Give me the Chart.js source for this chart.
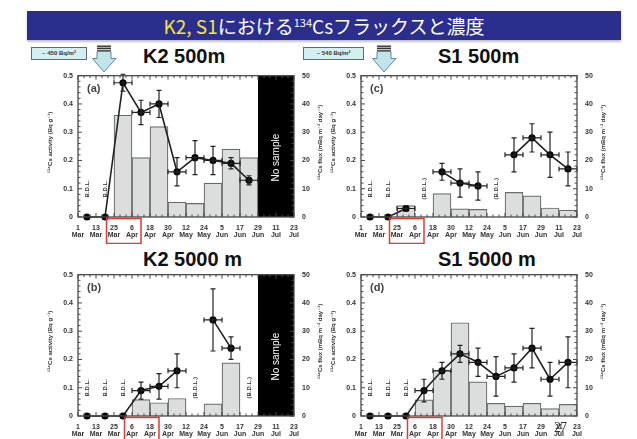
<!DOCTYPE html>
<html>
<head>
<meta charset="utf-8">
<script src="https://cdn.jsdelivr.net/npm/chart.js@4"></script>
<style>
  html, body { margin: 0; padding: 0; background: #fff; }
  body { width: 637px; height: 439px; position: relative; overflow: hidden; font-family: 'Liberation Sans', Arial, sans-serif; }
  .banner { position: absolute; left: 27px; top: 11px; width: 594px; height: 29px; background: #2c2e8e;
            box-shadow: 0 2px 2px rgba(0,0,0,0.25); color: #fff; text-align: center;
            font-family: 'Noto Sans CJK JP', sans-serif; font-size: 19px; line-height: 29px; white-space: nowrap; }
  .banner .hl { color: #f4e53b; }
  .banner .sup { font-size: 11px; position: relative; top: -7px; }
  .head { position: absolute; font: bold 20px 'Liberation Sans', Arial, sans-serif; line-height: 20px; color: #111; white-space: nowrap; }
  .inv { position: absolute; height: 13px; box-sizing: border-box; background: #d3eff1; border: 1px solid #5c6c72;
         font: bold 6px 'Liberation Sans', Arial, sans-serif; line-height: 11px; text-align: center; color: #333; white-space: nowrap; }
  .arrow { position: absolute; top: 45px; }
  canvas { position: absolute; }
  .page { position: absolute; left: 554px; top: 420px; font: 14px 'Liberation Serif', serif; color: #333; letter-spacing: -1px; }
</style>
</head>
<body>
<div class="banner"><span class="hl">K2, S1</span>における<span class="sup">134</span>Csフラックスと濃度</div>

<div class="inv" style="left:31px;top:47px;width:56px;">~ 450 Bq/m²</div>
<svg class="arrow" style="left:92px" width="25" height="28" viewBox="0 0 25 28">
  <rect x="5" y="0.5" width="14" height="1.4" fill="#333"/>
  <rect x="5" y="2.6" width="14" height="1.4" fill="#333"/>
  <rect x="5" y="4.7" width="14" height="1.4" fill="#555"/>
  <path d="M5 6.5 H19 V13.5 H24 L12 27 L0.5 13.5 H5 Z" fill="#bfe4ea" stroke="#6d878f" stroke-width="1"/>
</svg>
<div class="head" style="left:143px;top:46px;">K2 500m</div>

<div class="inv" style="left:303px;top:47px;width:61px;">~ 540 Bq/m²</div>
<svg class="arrow" style="left:372px" width="25" height="28" viewBox="0 0 25 28">
  <rect x="5" y="0.5" width="14" height="1.4" fill="#333"/>
  <rect x="5" y="2.6" width="14" height="1.4" fill="#333"/>
  <rect x="5" y="4.7" width="14" height="1.4" fill="#555"/>
  <path d="M5 6.5 H19 V13.5 H24 L12 27 L0.5 13.5 H5 Z" fill="#bfe4ea" stroke="#6d878f" stroke-width="1"/>
</svg>
<div class="head" style="left:438px;top:46px;">S1 500m</div>

<div class="head" style="left:143px;top:249px;">K2 5000 m</div>
<div class="head" style="left:438px;top:249px;">S1 5000 m</div>

<canvas id="ca" width="300" height="180" style="left:30px;top:64px"></canvas>
<canvas id="cc" width="285" height="180" style="left:326px;top:64px"></canvas>
<canvas id="cb" width="300" height="176" style="left:30px;top:263px"></canvas>
<canvas id="cd" width="285" height="176" style="left:326px;top:263px"></canvas>

<div class="page">27</div>

<script>
// Sampling bins: days after 1 March, centre of each 12-day trap interval
const binDay = [6, 18, 30, 42, 54, 66, 78, 90, 102, 114, 126, 138];
const halfBin = 6;

// Axis tick labels (every 12 days from 1 Mar to 23 Jul)
const tickDay = ['1', '13', '25', '6', '18', '30', '12', '24', '5', '17', '29', '11', '23'];
const tickMonth = ['Mar', 'Mar', 'Mar', 'Apr', 'Apr', 'Apr', 'May', 'May', 'Jun', 'Jun', 'Jun', 'Jul', 'Jul'];

// (a) K2 500 m
const actA  = [0, 0, 0.475, 0.37, 0.40, 0.16, 0.21, 0.20, 0.19, 0.13, null, null];
const errA  = [0, 0, 0.03, 0.043, 0.048, 0.05, 0.06, 0.05, 0.02, 0.016, null, null];
const fluxA = [null, null, 36, 21, 32, 5.3, 4.8, 12, 24, 21, null, null];
const bdlA = [6, 18];
const bdlParenA = [];
const noSampleA = [120, 144];
const markA = [19, 42];

// (b) K2 5000 m
const actB  = [0, 0, 0, 0.09, 0.105, 0.16, null, 0.34, 0.24, null, null, null];
const errB  = [0, 0, 0, 0.03, 0.045, 0.06, null, 0.11, 0.04, null, null, null];
const fluxB = [null, null, null, 5.8, 4.7, 6.2, null, 4.3, 18.8, null, null, null];
const bdlB = [6, 18, 30];
const bdlParenB = [78, 114];
const noSampleB = [120, 144];
const markB = [31, 54];

// (c) S1 500 m
const actC  = [0, 0, 0.03, null, 0.16, 0.12, 0.11, null, 0.22, 0.28, 0.22, 0.17];
const errC  = [0, 0, 0.01, null, 0.03, 0.05, 0.05, null, 0.06, 0.05, 0.08, 0.06];
const fluxC = [null, null, 4.0, null, 8.3, 2.9, 2.7, null, 8.7, 7.5, 3.2, 2.4];
const bdlC = [6, 18];
const bdlParenC = [42, 90];
const markC = [19, 42];

// (d) S1 5000 m
const actD  = [0, 0, 0, 0.09, 0.16, 0.22, 0.19, 0.14, 0.17, 0.24, 0.13, 0.19];
const errD  = [0, 0, 0, 0.04, 0.03, 0.03, 0.05, 0.07, 0.05, 0.07, 0.06, 0.09];
const fluxD = [null, null, null, 5.7, 16.2, 33, 12.1, 4.5, 3.5, 4.5, 2.6, 4.1];
const bdlD = [6, 18, 30];
const bdlParenD = [];
const markD = [31, 54];

const activityTitle = '¹³⁴Cs activity (Bq g⁻¹)';
const fluxTitle = '¹³⁴Cs flux (mBq m⁻² day⁻¹)';

const tickFont = { family: "'Liberation Sans', Arial, sans-serif", size: 7, weight: 'bold', lineHeight: 1.05 };

function rotatedText(ctx, text, x, y) {
  ctx.save();
  ctx.translate(x, y);
  ctx.rotate(-Math.PI / 2);
  ctx.textAlign = 'center';
  ctx.textBaseline = 'middle';
  ctx.fillText(text, 0, 0);
  ctx.restore();
}

function makePanel(id, p) {
  const decor = {
    id: 'decor',
    beforeDatasetsDraw(chart) {
      if (!p.noSample) return;
      const { ctx, chartArea: a, scales: { x } } = chart;
      const x1 = x.getPixelForValue(p.noSample[0]);
      const x2 = x.getPixelForValue(p.noSample[1]);
      ctx.save();
      ctx.fillStyle = '#000';
      ctx.fillRect(x1, a.top, x2 - x1, a.bottom - a.top);
      ctx.restore();
    },
    afterDatasetsDraw(chart) {
      const { ctx, chartArea: a, scales: { x, y } } = chart;
      ctx.save();

      // error bars: horizontal = trap interval, vertical = activity uncertainty
      ctx.strokeStyle = '#222';
      ctx.lineWidth = 1.2;
      p.act.forEach((v, i) => {
        if (v == null || v === 0) return;
        const cx = x.getPixelForValue(binDay[i]);
        const cy = y.getPixelForValue(v);
        const xl = x.getPixelForValue(binDay[i] - halfBin);
        const xr = x.getPixelForValue(binDay[i] + halfBin);
        const yt = y.getPixelForValue(v + p.err[i]);
        const yb = y.getPixelForValue(v - p.err[i]);
        ctx.beginPath();
        ctx.moveTo(xl, cy); ctx.lineTo(xr, cy);
        ctx.moveTo(xl, cy - 2.5); ctx.lineTo(xl, cy + 2.5);
        ctx.moveTo(xr, cy - 2.5); ctx.lineTo(xr, cy + 2.5);
        ctx.moveTo(cx, yt); ctx.lineTo(cx, yb);
        ctx.moveTo(cx - 2.5, yt); ctx.lineTo(cx + 2.5, yt);
        ctx.moveTo(cx - 2.5, yb); ctx.lineTo(cx + 2.5, yb);
        ctx.stroke();
      });

      // plot frame with inward ticks on all sides
      ctx.strokeStyle = '#4a4a4a';
      ctx.lineWidth = 1.3;
      ctx.strokeRect(a.left, a.top, a.right - a.left, a.bottom - a.top);
      ctx.lineWidth = 1;
      ctx.beginPath();
      for (let d = 0; d <= 144; d += 4) {
        const px = x.getPixelForValue(d);
        const len = d % 12 === 0 ? 4 : 2.5;
        ctx.moveTo(px, a.bottom); ctx.lineTo(px, a.bottom - len);
        ctx.moveTo(px, a.top); ctx.lineTo(px, a.top + len);
      }
      for (let k = 0; k <= 25; k++) {
        const py = y.getPixelForValue(k / 50);
        const len = k % 5 === 0 ? 4 : 2.5;
        ctx.moveTo(a.left, py); ctx.lineTo(a.left + len, py);
        ctx.moveTo(a.right, py); ctx.lineTo(a.right - len, py);
      }
      ctx.stroke();

      // panel letter
      ctx.fillStyle = '#444';
      ctx.font = "bold 11px 'Liberation Sans', Arial, sans-serif";
      ctx.textAlign = 'left';
      ctx.textBaseline = 'top';
      ctx.fillText(p.label, a.left + 9, a.top + 8);

      // below-detection-limit notes
      ctx.fillStyle = '#333';
      ctx.font = "bold 6px 'Liberation Sans', Arial, sans-serif";
      const by = y.getPixelForValue(0.1);
      p.bdl.forEach(d => rotatedText(ctx, 'B.D.L.', x.getPixelForValue(d), by));
      p.bdlParen.forEach(d => rotatedText(ctx, '(B.D.L.)', x.getPixelForValue(d), by));

      // no-sample period label
      if (p.noSample) {
        ctx.fillStyle = '#fff';
        ctx.font = "10px 'Liberation Sans', Arial, sans-serif";
        const mx = x.getPixelForValue((p.noSample[0] + p.noSample[1]) / 2);
        rotatedText(ctx, 'No sample', mx, y.getPixelForValue(0.21));
      }

      // axis titles
      ctx.fillStyle = '#333';
      ctx.font = "bold 6px 'Liberation Sans', 'DejaVu Sans', sans-serif";
      const midY = (a.top + a.bottom) / 2 - 4;
      rotatedText(ctx, activityTitle, a.left - 28, midY);
      rotatedText(ctx, fluxTitle, a.right + 26, midY);

      // highlighted tick labels
      ctx.strokeStyle = '#e4392e';
      ctx.lineWidth = 1.5;
      const m1 = x.getPixelForValue(p.mark[0]);
      const m2 = x.getPixelForValue(p.mark[1]);
      ctx.strokeRect(m1, a.bottom + 1.5, m2 - m1, 25);

      ctx.restore();
    }
  };

  return new Chart(document.getElementById(id), {
    type: 'bar',
    data: {
      datasets: [
        {
          type: 'line',
          data: binDay.map((d, i) => ({ x: d, y: p.act[i] })),
          yAxisID: 'y',
          borderColor: '#222',
          borderWidth: 1.6,
          pointRadius: 3.6,
          pointBackgroundColor: '#000',
          pointBorderColor: '#000',
          pointBorderWidth: 0,
          spanGaps: false,
          tension: 0,
          clip: false,
          order: 0
        },
        {
          type: 'bar',
          data: binDay.map((d, i) => ({ x: d, y: p.flux[i] })),
          yAxisID: 'y1',
          backgroundColor: '#dcdedd',
          borderColor: '#6b6b6b',
          borderWidth: 1.2,
          barPercentage: 1,
          categoryPercentage: 1,
          order: 1
        }
      ]
    },
    options: {
      responsive: false,
      animation: false,
      events: [],
      layout: { padding: { top: 10, left: 0, right: 0, bottom: 0 } },
      plugins: { legend: { display: false }, tooltip: { enabled: false } },
      scales: {
        x: {
          type: 'linear',
          min: 0, max: 144,
          offset: false,
          grid: { display: false, drawTicks: false },
          border: { display: false },
          afterFit: s => { s.height = p.xHeight; },
          ticks: {
            stepSize: 12,
            autoSkip: false,
            maxRotation: 0,
            padding: 7,
            color: '#333',
            font: tickFont,
            callback: (v, i) => [tickDay[i], tickMonth[i]]
          }
        },
        y: {
          position: 'left',
          min: 0, max: 0.5,
          grid: { display: false, drawTicks: false },
          border: { display: false },
          afterFit: s => { s.width = p.leftWidth; },
          ticks: { stepSize: 0.1, padding: 5, color: '#333', font: tickFont }
        },
        y1: {
          position: 'right',
          min: 0, max: 50,
          grid: { display: false, drawTicks: false },
          border: { display: false },
          afterFit: s => { s.width = p.rightWidth; },
          ticks: { stepSize: 10, padding: 8, color: '#333', font: tickFont }
        }
      }
    },
    plugins: [decor]
  });
}

makePanel('ca', { act: actA, err: errA, flux: fluxA, label: '(a)', bdl: bdlA, bdlParen: bdlParenA,
                  noSample: noSampleA, mark: markA, leftWidth: 48, rightWidth: 36, xHeight: 27 });
makePanel('cc', { act: actC, err: errC, flux: fluxC, label: '(c)', bdl: bdlC, bdlParen: bdlParenC,
                  noSample: null, mark: markC, leftWidth: 35, rightWidth: 34, xHeight: 27 });
makePanel('cb', { act: actB, err: errB, flux: fluxB, label: '(b)', bdl: bdlB, bdlParen: bdlParenB,
                  noSample: noSampleB, mark: markB, leftWidth: 48, rightWidth: 36, xHeight: 23 });
makePanel('cd', { act: actD, err: errD, flux: fluxD, label: '(d)', bdl: bdlD, bdlParen: bdlParenD,
                  noSample: null, mark: markD, leftWidth: 35, rightWidth: 34, xHeight: 23 });
</script>
</body>
</html>
